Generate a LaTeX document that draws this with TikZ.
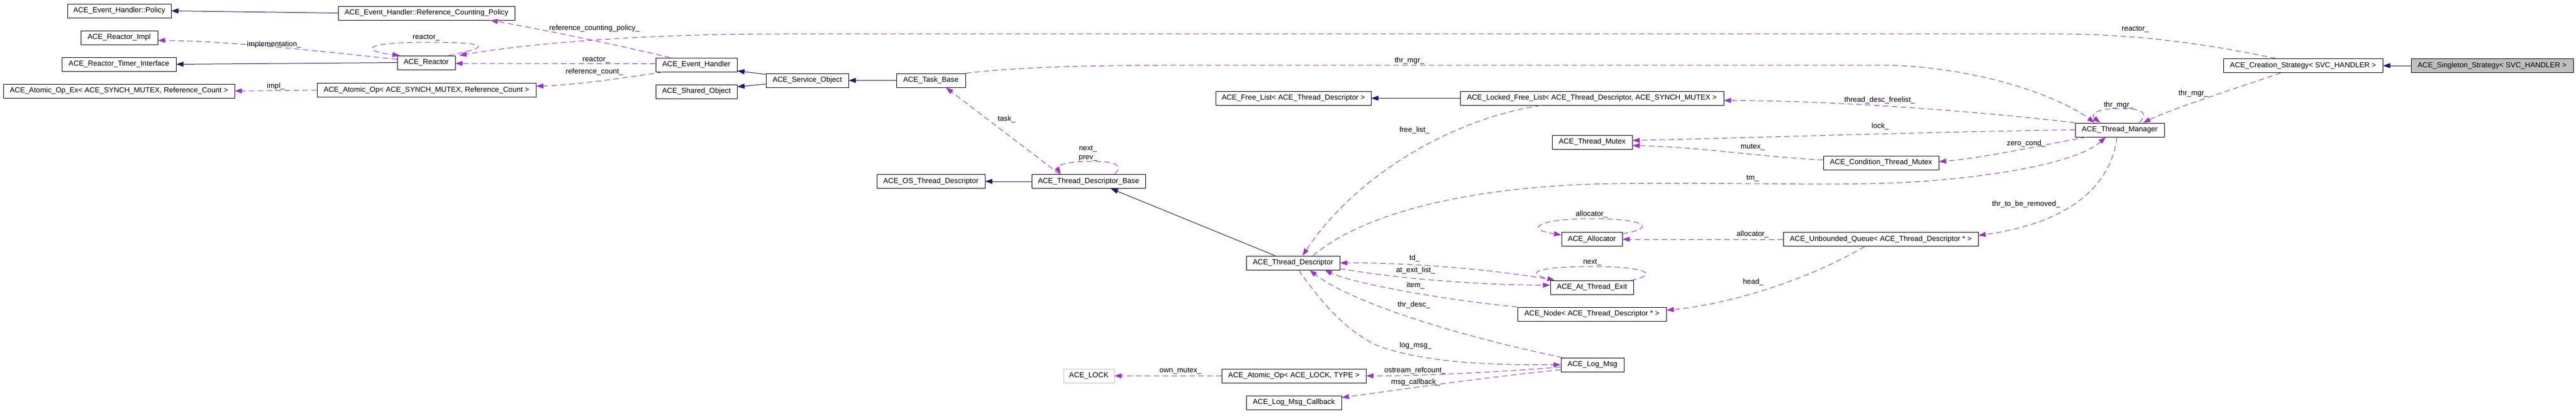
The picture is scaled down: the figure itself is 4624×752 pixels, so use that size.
\documentclass[tikz,border=0pt]{standalone}
\usepackage{fontspec}
\setmainfont{Liberation Sans}
\usetikzlibrary{arrows.meta}
\definecolor{edgepurple}{HTML}{9A32CD}
\definecolor{edgenavy}{HTML}{191970}
\definecolor{rootgray}{HTML}{BFBFBF}
\begin{document}
\begin{tikzpicture}[x=1pt,y=-1pt,
  every node/.style={font=\fontsize{13.25pt}{15.9pt}\selectfont, inner sep=0pt},
  cls/.style={draw=black, line width=0.9pt, minimum height=25pt, anchor=center, fill=white},
  inh/.style={draw=edgenavy, line width=1pt, -{Triangle[length=13pt,width=9pt]}},
  use/.style={draw=edgepurple, line width=1pt, dash pattern=on 10pt off 6pt, -{Triangle[length=13pt,width=9pt]}},
  lbl/.style={text=black}]
\fill[white] (0,0) rectangle (4624,752);
\useasboundingbox (0,0) rectangle (4624,752);

% classes
\node[cls, minimum width=186pt] (pol) at (214,19.5) {ACE\_Event\_Handler::Policy};
\node[cls, minimum width=317pt] (rcp) at (765.5,23.5) {ACE\_Event\_Handler::Reference\_Counting\_Policy};
\node[cls, minimum width=138pt] (rimpl) at (214,67.5) {ACE\_Reactor\_Impl};
\node[cls, minimum width=205pt] (rti) at (213.5,115.5) {ACE\_Reactor\_Timer\_Interface};
\node[cls, minimum width=104pt] (reactor) at (765,112.5) {ACE\_Reactor};
\node[cls, minimum width=415pt] (aopex) at (213.5,163.5) {ACE\_Atomic\_Op\_Ex< ACE\_SYNCH\_MUTEX, Reference\_Count >};
\node[cls, minimum width=393pt] (aop) at (765.5,162) {ACE\_Atomic\_Op< ACE\_SYNCH\_MUTEX, Reference\_Count >};
\node[cls, minimum width=146pt] (eh) at (1250,116.5) {ACE\_Event\_Handler};
\node[cls, minimum width=146pt] (shobj) at (1250,164.5) {ACE\_Shared\_Object};
\node[cls, minimum width=148pt] (svc) at (1449,144.5) {ACE\_Service\_Object};
\node[cls, minimum width=124pt] (task) at (1671,144.5) {ACE\_Task\_Base};
\node[cls, minimum width=279pt] (fl) at (2321.5,176.5) {ACE\_Free\_List< ACE\_Thread\_Descriptor >};
\node[cls, minimum width=473pt] (lfl) at (2857.5,176.5) {ACE\_Locked\_Free\_List< ACE\_Thread\_Descriptor, ACE\_SYNCH\_MUTEX >};
\node[cls, minimum width=160pt] (tmgr) at (3805,233.5) {ACE\_Thread\_Manager};
\node[cls, minimum width=286pt] (cs) at (4134,118) {ACE\_Creation\_Strategy< SVC\_HANDLER >};
\node[cls, minimum width=291pt, fill=rootgray] (ss) at (4473.5,118) {ACE\_Singleton\_Strategy< SVC\_HANDLER >};
\node[cls, minimum width=144pt] (tmx) at (2858,255.5) {ACE\_Thread\_Mutex};
\node[cls, minimum width=207pt] (ctm) at (3376.5,292.5) {ACE\_Condition\_Thread\_Mutex};
\node[cls, minimum width=194pt] (ostd) at (1671,326) {ACE\_OS\_Thread\_Descriptor};
\node[cls, minimum width=204pt] (tdb) at (1954,326) {ACE\_Thread\_Descriptor\_Base};
\node[cls, minimum width=168pt] (td) at (2321,472.5) {ACE\_Thread\_Descriptor};
\node[cls, minimum width=109pt] (alloc) at (2857.5,430) {ACE\_Allocator};
\node[cls, minimum width=350pt] (uq) at (3376,430) {ACE\_Unbounded\_Queue< ACE\_Thread\_Descriptor * >};
\node[cls, minimum width=149pt] (ate) at (2857.5,516.5) {ACE\_At\_Thread\_Exit};
\node[cls, minimum width=267pt] (nd) at (2857.5,564.5) {ACE\_Node< ACE\_Thread\_Descriptor * >};
\node[cls, minimum width=91pt, draw=rootgray] (lk) at (1954.5,675.5) {ACE\_LOCK};
\node[cls, minimum width=259pt] (aopl) at (2322.5,675.5) {ACE\_Atomic\_Op< ACE\_LOCK, TYPE >};
\node[cls, minimum width=113pt] (lm) at (2858.5,655.5) {ACE\_Log\_Msg};
\node[cls, minimum width=171pt] (lmc) at (2322.5,723.5) {ACE\_Log\_Msg\_Callback};

% inheritance
\draw[inh] (rcp.west) -- (pol.east);
\draw[inh] (reactor.west) -- (rti.east);
\draw[inh] ([yshift=-2pt]svc.north west) -- ([yshift=2pt]eh.south east);
\draw[inh] ([yshift=-6.5pt]svc.west) -- ([yshift=8.5pt]shobj.east);
\draw[inh] (task.west) -- (svc.east);
\draw[inh] (lfl.west) -- (fl.east);
\draw[inh] (ss.west) -- (cs.east);
\draw[inh] (tdb.west) -- (ostd.east);
\draw[inh] ([xshift=-32pt]td.north) -- ([xshift=40pt]tdb.south);

% usage
\draw[use] ([xshift=-47pt]eh.north) .. controls (1140,88) and (1000,58) .. ([xshift=115pt]rcp.south);
\node[lbl] at (1067,51) {reference\_counting\_policy\_};
\draw[use] ([yshift=2pt]eh.west) -- ([yshift=-1.5pt]reactor.east);
\node[lbl] at (1070,108) {reactor\_};
\draw[use] ([xshift=-60pt]eh.south) .. controls (1120,140) and (1040,152) .. ([yshift=7pt]aop.east);
\node[lbl] at (1067,129) {reference\_count\_};
\draw[use] ([yshift=6pt]reactor.west) .. controls (600,95) and (420,74) .. ([yshift=-5pt]rimpl.east);
\node[lbl] at (492,80) {implementation\_};
\draw[use] ([xshift=-12pt]reactor.north east) .. controls (880,85) and (885,76) .. (765,76) .. controls (645,76) and (650,92) .. ([xshift=5pt]reactor.north west);
\node[lbl] at (765,68) {reactor\_};
\draw[use] ([xshift=-49pt]cs.north) .. controls (3990,85) and (3860,62) .. (3700,61) -- (1400,61) .. controls (1150,61) and (950,78) .. ([xshift=7pt]reactor.north east);
\node[lbl] at (3833,53) {reactor\_};
\draw[use] (aop.west) -- (aopex.east);
\node[lbl] at (495,155) {impl\_};
\draw[use] ([xshift=-52pt]tdb.north) -- ([xshift=27pt]task.south);
\node[lbl] at (1807,214) {task\_};
\draw[use] ([xshift=47pt]tdb.north) .. controls (2020,292) and (1990,290) .. (1955,290) .. controls (1915,290) and (1895,298) .. ([xshift=-50pt]tdb.north);
\node[lbl] at (1953,268) {next\_};
\node[lbl] at (1953,284) {prev\_};
\draw[use] (task.north east) .. controls (1850,118) and (2000,117) .. (2200,117) -- (3390,117) .. controls (3550,122) and (3690,170) .. ([xshift=-45pt]tmgr.north);
\node[lbl] at (2530,109) {thr\_mgr\_};
\draw[use] ([xshift=-40pt]cs.south) .. controls (4010,160) and (3900,195) .. ([xshift=42pt]tmgr.north);
\node[lbl] at (3937,168) {thr\_mgr\_};
\draw[use] ([xshift=35pt]tmgr.north) .. controls (3860,200) and (3840,195) .. (3803,195) .. controls (3765,195) and (3750,205) .. ([xshift=-35pt]tmgr.north);
\node[lbl] at (3803,189) {thr\_mgr\_};
\draw[use] (tmgr.north west) .. controls (3550,200) and (3300,181) .. ([yshift=-4pt]lfl.east);
\node[lbl] at (3374,180) {thread\_desc\_freelist\_};
\draw[use] (tmgr.west) .. controls (3500,236) and (3200,246) .. ([yshift=3pt]tmx.east);
\node[lbl] at (3375,227) {lock\_};
\draw[use] ([yshift=5pt]ctm.west) .. controls (3150,281) and (3050,264) .. ([yshift=-6pt]tmx.east);
\node[lbl] at (3146,265) {mutex\_};
\draw[use] ([xshift=-60pt]tmgr.south) .. controls (3660,262) and (3560,284) .. ([yshift=2pt]ctm.east);
\node[lbl] at (3637,258) {zero\_cond\_};
\draw[use] ([xshift=36pt]td.north) .. controls (2450,380) and (2650,333) .. (2900,330) .. controls (3150,327) and (3300,336) .. (3450,326) .. controls (3600,315) and (3730,290) .. ([xshift=-25pt]tmgr.south);
\node[lbl] at (3146,321) {tm\_};
\draw[use] ([xshift=-5pt]tmgr.south) .. controls (3790,330) and (3720,400) .. ([yshift=7pt]uq.east);
\node[lbl] at (3637,367) {thr\_to\_be\_removed\_};
\draw[use] ([xshift=-92pt]lfl.south) .. controls (2600,215) and (2430,320) .. ([xshift=17pt]td.north);
\node[lbl] at (2539,234) {free\_list\_};
\draw[use] ([xshift=7pt]ate.north west) .. controls (2700,487) and (2550,472) .. (td.east);
\node[lbl] at (2539,464) {td\_};
\draw[use] ([yshift=-10pt]td.east) .. controls (2500,500) and (2650,512) .. ([yshift=4pt]ate.west);
\node[lbl] at (2541,486) {at\_exit\_list\_};
\draw[use] ([xshift=-5pt]ate.north east) .. controls (2975,495) and (2965,479) .. (2858,479) .. controls (2750,479) and (2740,492) .. ([xshift=8pt]ate.north west);
\node[lbl] at (2858,472) {next\_};
\draw[use] (nd.north west) .. controls (2600,540) and (2430,510) .. ([xshift=57pt]td.south);
\node[lbl] at (2541,513) {item\_};
\draw[use] ([xshift=3pt]lm.north west) .. controls (2600,600) and (2420,540) .. ([xshift=30pt]td.south);
\node[lbl] at (2538,548) {thr\_desc\_};
\draw[use] ([xshift=10pt]td.south) .. controls (2370,540) and (2410,590) .. (2470,620) .. controls (2560,655) and (2700,656) .. (lm.west);
\node[lbl] at (2541,621) {log\_msg\_};
\draw[use] ([yshift=-4pt]lm.west) .. controls (2700,668) and (2550,676) .. (aopl.east);
\node[lbl] at (2540,666) {ostream\_refcount\_};
\draw[use] ([yshift=-9pt]lm.west) .. controls (2650,680) and (2500,702) .. ([yshift=9pt]lmc.east);
\node[lbl] at (2541,687) {msg\_callback\_};
\draw[use] (aopl.west) -- (lk.east);
\node[lbl] at (2119,667) {own\_mutex\_};
\draw[use] ([xshift=-29pt]uq.south) .. controls (3260,495) and (3120,545) .. ([yshift=7pt]nd.east);
\node[lbl] at (3147,507) {head\_};
\draw[use] (uq.west) -- (alloc.east);
\node[lbl] at (3146,421) {allocator\_};
\draw[use] ([yshift=-3pt]alloc.north east) .. controls (2975,410) and (2955,393) .. (2857,393) .. controls (2760,393) and (2735,412) .. ([yshift=-5pt]alloc.north west);
\node[lbl] at (2857,385) {allocator\_};
\end{tikzpicture}
\end{document}
